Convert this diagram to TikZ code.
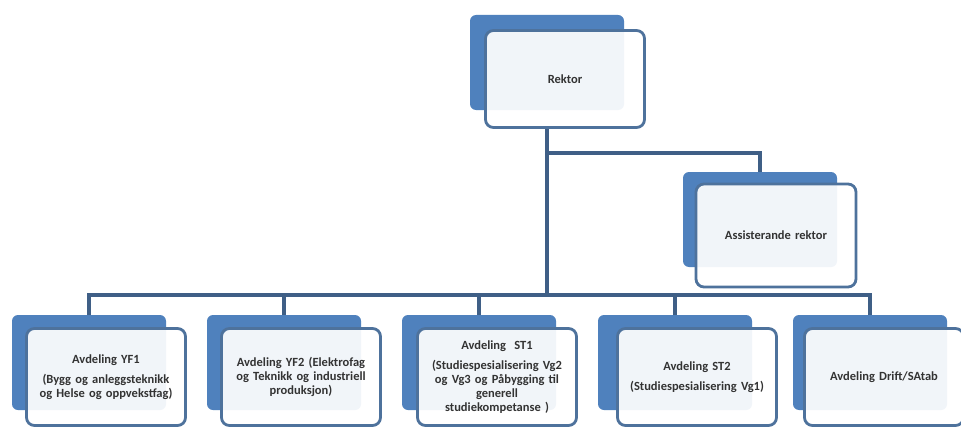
\documentclass[tikz,border=0pt]{standalone}
\usepackage{fontspec}
\setmainfont{Carlito}
\definecolor{backblue}{HTML}{4F81BD}
\definecolor{edgeblue}{HTML}{4E729C}
\definecolor{connblue}{HTML}{3F5F86}
\tikzset{
  backbox/.style={draw=none, fill=backblue, rounded corners=6pt, minimum width=154pt, minimum height=95pt, inner sep=0pt, outer sep=0pt},
  frontbox/.style={draw=edgeblue, line width=2.8pt, fill=white, fill opacity=0.92, text opacity=1, rounded corners=8pt, minimum width=159pt, minimum height=97pt, inner sep=0pt, outer sep=0pt, align=center, text width=154pt, font=\fontsize{12.5}{14}\selectfont\bfseries, text=black!80},
  conn/.style={draw=connblue, line width=3.5pt}
}
\begin{document}
\begin{tikzpicture}[x=1pt,y=-1pt]
\useasboundingbox (0,0) rectangle (961,428);
\fill[white] (0,0) rectangle (961,428);
% coordinates of the bus lines
\coordinate (bus) at (0,295);
\coordinate (abus) at (0,153);
% back boxes
\node[backbox] (rb) at (547,62.5) {};
\node[backbox] (ab) at (760,219.5) {};
\node[backbox] (b1) at (89,362.5) {};
\node[backbox] (b2) at (284,362.5) {};
\node[backbox] (b3) at (479,362.5) {};
\node[backbox] (b4) at (675,362.5) {};
\node[backbox] (b5) at (870,362.5) {};
% connectors
\draw[conn] (rb |- 0,128) -- (rb |- bus);
\draw[conn] (rb |- abus) -| (ab.north);
\draw[conn] (b1.north) |- (b5.north |- bus) -- (b5.north);
\draw[conn] (b2.north) -- (b2.north |- bus);
\draw[conn] (b3.north) -- (b3.north |- bus);
\draw[conn] (b4.north) -- (b4.north |- bus);
% front boxes
\node[frontbox] (r) at (565,79) {Rektor};
\node[frontbox, minimum width=160pt, minimum height=103pt] (a) at (776,235.5) {Assisterande rektor};
\node[frontbox] (f1) at (106,377) {Avdeling YF1\\[6pt](Bygg og anleggsteknikk\\og Helse og oppvekstfag)};
\node[frontbox] (f2) at (301,377) {Avdeling YF2 (Elektrofag\\og Teknikk og industriell\\produksjon)};
\node[frontbox] (f3) at (497,377) {Avdeling\ \ ST1\\[6pt](Studiespesialisering Vg2\\og Vg3 og Påbygging til\\generell\\studiekompetanse )};
\node[frontbox] (f4) at (697,377) {Avdeling ST2\\[6pt](Studiespesialisering Vg1)};
\node[frontbox] (f5) at (884,377) {Avdeling Drift/SAtab};
\end{tikzpicture}
\end{document}
